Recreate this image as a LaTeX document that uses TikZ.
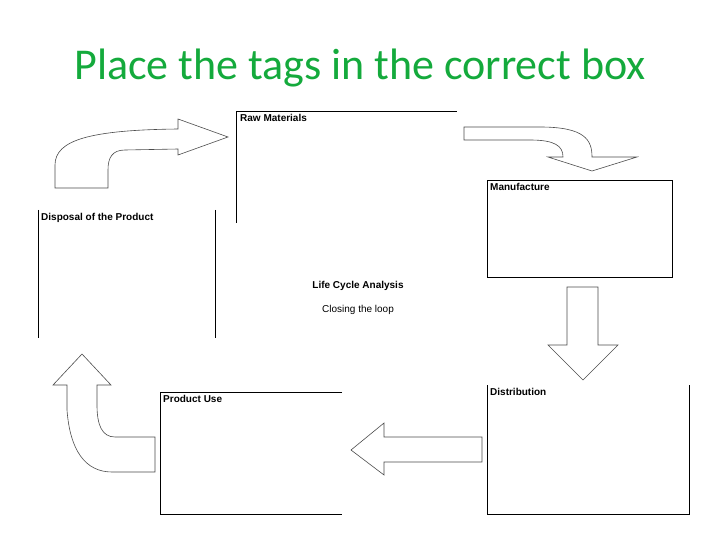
\documentclass[tikz,border=0pt]{standalone}
\usepackage{fontspec}
\setmainfont{Liberation Sans}
\newfontfamily\titlefont{Carlito}
\definecolor{titlegreen}{RGB}{20,170,60}
\begin{document}
\begin{tikzpicture}[x=1pt,y=-1pt,
  lbl/.style={anchor=north west,inner sep=0pt,font=\fontsize{10}{11}\selectfont\bfseries},
  ctr/.style={inner sep=0pt,font=\fontsize{10}{11}\selectfont},
  edge/.style={line width=0.8pt},
  arr/.style={draw=black!70,line width=0.6pt,fill=white}]
\useasboundingbox (0,0) rectangle (720,540);
\node[font=\titlefont\fontsize{44}{48}\selectfont,text=titlegreen] (title) at (360,68) {Place the tags in the correct box};
% boxes
\draw[edge] (236,223) -- (236,111) -- (457,111);
\node[lbl] (raw) at (240,114) {Raw Materials};
\draw[edge] (38,210) -- (38,338) (215,210) -- (215,338);
\node[lbl] (disp) at (41,213) {Disposal of the Product};
\draw[edge] (487,180) rectangle (672,277);
\node[lbl] (manu) at (490,183) {Manufacture};
\draw[edge] (487,385) -- (487,514) -- (689,514) -- (689,385);
\node[lbl] (dist) at (490,388) {Distribution};
\draw[edge] (342,392) -- (160,392) -- (160,514) -- (342,514);
\node[lbl] (use) at (163,395) {Product Use};
\node[ctr,font=\fontsize{10}{11}\selectfont\bfseries] (lca) at (358,286) {Life Cycle Analysis};
\node[ctr] (loop) at (358,310) {Closing the loop};
% arrows
\draw[arr] (55,188) -- (55,165) .. controls (55,140) and (90,130) .. (178,129) -- (178,119) -- (228,137) -- (178,155) -- (178,149) -- (125,150) .. controls (112,150) and (108,158) .. (108,170) -- (108,188) -- cycle;
\draw[arr] (464,127) -- (540,127) .. controls (585,127) and (592,140) .. (592,157) -- (637,157) -- (592,171) -- (548,157) -- (563,157) .. controls (563,146) and (555,140) .. (530,140) -- (464,140) -- cycle;
\draw[arr] (567,287) -- (598,287) -- (598,345) -- (618,345) -- (583,380) -- (548,345) -- (567,345) -- cycle;
\draw[arr] (482,437) -- (384,437) -- (384,423) -- (351,450) -- (384,475) -- (384,462) -- (482,462) -- cycle;
\draw[arr] (155,437) -- (115,437) .. controls (102,437) and (97,425) .. (97,405) -- (97,385) -- (111,385) -- (82,354) -- (53,385) -- (67,385) -- (67,410) .. controls (70,450) and (85,472) .. (112,472) -- (155,472) -- cycle;
\end{tikzpicture}
\end{document}
